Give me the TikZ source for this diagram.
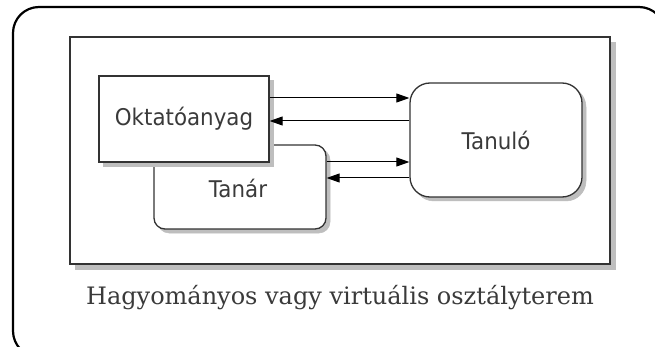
\documentclass[tikz,border=0pt]{standalone}
\usepackage{fontspec}
\usetikzlibrary{arrows.meta,calc}
\newfontfamily\boxfont[FakeStretch=0.93]{DejaVu Sans}
\newfontfamily\capfont{DejaVu Serif}
\definecolor{edge}{HTML}{333333}
\definecolor{dropgray}{RGB}{190,190,190}
\definecolor{ink}{HTML}{3A3A3A}
\tikzset{
  frame/.style={draw=edge, line width=1.3pt, fill=white, inner sep=0pt},
  backdrop/.style={fill=dropgray, inner sep=0pt, draw=dropgray, line width=0.5pt},
  label text/.style={font=\boxfont\fontsize{23}{26}\selectfont, text=ink},
  link/.style={draw=black, line width=1pt, -{Triangle[length=13pt,width=9pt]}},
}
\begin{document}
\begin{tikzpicture}[x=1pt,y=-1pt]
\useasboundingbox (0,0) rectangle (655,347);
% outer room outline, running past the page edge
\begin{scope}
\clip (0,0) rectangle (655,347);
\node[draw=black, line width=2.2pt, rounded corners=26pt, minimum width=652pt, minimum height=350pt, inner sep=0pt] (room) at (339,182) {};
\end{scope}
% classroom area with its shadow
\node[backdrop, minimum width=540pt, minimum height=227pt] (areashadow) at (345,155.5) {};
\node[frame, minimum width=540pt, minimum height=227pt] (area) at (340,150.5) {};
% teacher
\node[backdrop, rounded corners=11pt, minimum width=172pt, minimum height=84pt] (tanarshadow) at (244,191) {};
\node[frame, rounded corners=11pt, minimum width=172pt, minimum height=84pt] (tanar) at (240,187) {};
\node[label text] (tanartxt) at (238,188) {Tanár};
% learning material
\node[backdrop, minimum width=170pt, minimum height=86pt] (oktshadow) at (188,123) {};
\node[frame, minimum width=170pt, minimum height=86pt, label text] (okt) at (184,119) {Oktatóanyag};
% learner
\node[backdrop, rounded corners=20pt, minimum width=172pt, minimum height=114pt] (tanuloshadow) at (500,144) {};
\node[frame, rounded corners=20pt, minimum width=172pt, minimum height=114pt, label text] (tanulo) at (496,140) {Tanuló};
% information flows
\draw[link] ([yshift=21pt]okt.east) -- ([yshift=21pt]okt.east -| tanulo.west);
\draw[link] ([yshift=-2pt]okt.east -| tanulo.west) -- ([yshift=-2pt]okt.east);
\draw[link] ([yshift=25pt]tanar.east) -- ([yshift=25pt]tanar.east -| tanulo.west);
\draw[link] ([yshift=9pt]tanar.east -| tanulo.west) -- ([yshift=9pt]tanar.east);
% caption
\node[font=\capfont\fontsize{24}{28}\selectfont, text=ink] (caption) at (340,298) {Hagyományos vagy virtuális osztályterem};
\end{tikzpicture}
\end{document}
